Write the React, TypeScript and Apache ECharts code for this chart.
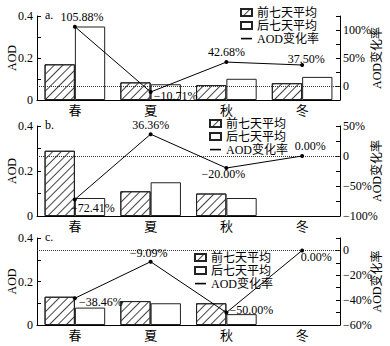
import React, { useEffect, useRef } from 'react';
import * as echarts from 'echarts';

const seasons = ['春', '夏', '秋', '冬'];

const aBefore = [0.17, 0.084, 0.071, 0.08];
const aAfter = [0.35, 0.075, 0.101, 0.11];
const aRate = [105.88, -10.71, 42.68, 37.5];

const bBefore = [0.29, 0.11, 0.1, null];
const bAfter = [0.08, 0.15, 0.08, null];
const bRate = [-72.41, 36.36, -20.0, 0.0];

const cBefore = [0.13, 0.11, 0.1, null];
const cAfter = [0.08, 0.1, 0.05, null];
const cRate = [-38.46, -9.09, -50.0, 0.0];

const panelTitles = ['a.', 'b.', 'c.'];
const rightMin = [-25, -100, -60];
const rightMax = [125, 50, 10];
const rightTickStep = [25, 25, 10];
const rightLabelStep = [50, 50, 20];

const legendNames = ['前七天平均', '后七天平均', 'AOD变化率'];

// label layout (style only)
const labelLayouts = [
  [
    { position: 'top', distance: 2, offset: [7, 0] },
    { position: 'right', distance: 1, offset: [0, 4] },
    { position: 'top', distance: 2, offset: [0, 0] },
    { position: 'top', distance: 0, offset: [4, 2] },
  ],
  [
    { position: 'bottom', distance: 2, offset: [18, -1] },
    { position: 'top', distance: 1, offset: [0, 0] },
    { position: 'bottom', distance: 0, offset: [-3, -2] },
    { position: 'top', distance: 2, offset: [8, 0] },
  ],
  [
    { position: 'right', distance: 2, offset: [0, 4] },
    { position: 'top', distance: 1, offset: [-2, 0] },
    { position: 'right', distance: 1, offset: [0, -3] },
    { position: 'bottom', distance: 0, offset: [14, -1] },
  ],
];

const FONT = "'Liberation Serif', 'Noto Sans CJK SC', serif";

const grids = [
  { left: 37, right: 50, top: 16, height: 84, outerBoundsMode: 'none', containLabel: false },
  { left: 37, right: 50, top: 126, height: 90, outerBoundsMode: 'none', containLabel: false },
  { left: 37, right: 50, top: 238, height: 87, outerBoundsMode: 'none', containLabel: false },
];
const legendPos = [
  { left: 240, top: 6 },
  { left: 209, top: 117 },
  { left: 194, top: 251 },
];

const LINE_ICON = 'path://M0,0 M11,7 M0,2.8 L11,2.8 L11,4.4 L0,4.4 Z';

const minus = (s: string) => s.replace('-', '\u2212');

export default function App() {
  const ref = useRef<HTMLDivElement>(null);
  useEffect(() => {
    if (!ref.current) return;
    const chart = echarts.init(ref.current, undefined, { renderer: 'svg' });
    const befores = [aBefore, bBefore, cBefore];
    const afters = [aAfter, bAfter, cAfter];
    const rates = [aRate, bRate, cRate];

    const xAxis: any[] = [];
    const yAxis: any[] = [];
    const series: any[] = [];
    const legend: any[] = [];
    const title: any[] = [];

    for (let i = 0; i < 3; i++) {
      xAxis.push({
        type: 'category',
        gridIndex: i,
        data: seasons,
        axisTick: { show: false },
        axisLine: { onZero: false, lineStyle: { color: '#000', width: 1 } },
        axisLabel: { color: '#000', fontSize: 13, margin: 4, fontFamily: FONT },
      });
      yAxis.push({
        type: 'value',
        gridIndex: i,
        position: 'left',
        min: 0,
        max: 0.4,
        interval: 0.1,
        name: 'AOD',
        nameLocation: 'middle',
        nameRotate: 90,
        nameGap: 19,
        nameMoveOverlap: false,
        nameTextStyle: { color: '#000', fontSize: 12, fontFamily: FONT },
        axisLine: { show: true, lineStyle: { color: '#000', width: 1 } },
        axisTick: { show: true, inside: true, length: 4, lineStyle: { color: '#000' } },
        axisLabel: {
          color: '#000',
          fontSize: 12,
          margin: 4,
          fontFamily: FONT,
          formatter: (v: number) => {
            const k = Math.round(v * 10);
            return k % 2 === 0 ? String(k / 10) : '';
          },
        },
        splitLine: { show: false },
      });
      const step = rightLabelStep[i];
      yAxis.push({
        type: 'value',
        gridIndex: i,
        position: 'right',
        min: rightMin[i],
        max: rightMax[i],
        interval: rightTickStep[i],
        name: 'AOD变化率',
        nameLocation: 'middle',
        nameRotate: 90,
        nameGap: 31,
        nameMoveOverlap: false,
        nameTextStyle: { color: '#000', fontSize: 12, fontFamily: FONT },
        axisLine: { show: true, lineStyle: { color: '#000', width: 1 } },
        axisTick: { show: true, inside: true, length: 4, lineStyle: { color: '#000' } },
        axisLabel: {
          color: '#000',
          fontSize: 12,
          margin: 3,
          fontFamily: FONT,
          formatter: (v: number) => {
            const r = Math.round(v);
            if (r % step !== 0) return '';
            if (r === 0) return '0';
            return minus(String(r)) + '%';
          },
        },
        splitLine: { show: false },
      });

      series.push({
        type: 'bar',
        name: legendNames[0],
        xAxisIndex: i,
        yAxisIndex: 2 * i,
        data: befores[i],
        barWidth: '40%',
        barGap: '0%',
        itemStyle: {
          color: '#fff',
          borderColor: '#222',
          borderWidth: 1,
          decal: {
            symbol: 'rect',
            symbolSize: 1,
            dashArrayX: [1, 0],
            dashArrayY: [1, 4.5],
            rotation: -Math.PI / 4,
            color: '#444',
            backgroundColor: '#fff',
          },
        },
      });
      series.push({
        type: 'bar',
        name: legendNames[1],
        xAxisIndex: i,
        yAxisIndex: 2 * i,
        data: afters[i],
        barWidth: '40%',
        barGap: '0%',
        itemStyle: { color: '#fff', borderColor: '#222', borderWidth: 1 },
      });
      series.push({
        type: 'line',
        name: legendNames[2],
        xAxisIndex: i,
        yAxisIndex: 2 * i + 1,
        z: 5,
        symbol: 'circle',
        symbolSize: 4,
        lineStyle: { color: '#000', width: 1 },
        itemStyle: { color: '#000' },
        data: rates[i].map((v, j) => ({ value: v, label: labelLayouts[i][j] })),
        label: {
          show: true,
          color: '#000',
          fontSize: 12,
          fontFamily: FONT,
          formatter: (p: any) => minus(Number(p.value).toFixed(2)) + '%',
        },
        markLine: {
          silent: true,
          symbol: ['none', 'none'],
          label: { show: false },
          lineStyle: { type: 'dotted', color: '#333', width: 1 },
          data: [{ yAxis: 0 }],
        },
      });

      legend.push({
        ...legendPos[i],
        orient: 'vertical',
        padding: 0,
        itemGap: 0,
        itemWidth: 11,
        itemHeight: 7,
        selectedMode: false,
        textStyle: { color: '#000', fontSize: 12, lineHeight: 13, fontFamily: FONT },
        data: [
          { name: legendNames[0], icon: 'rect' },
          { name: legendNames[1], icon: 'rect' },
          { name: legendNames[2], icon: LINE_ICON, itemStyle: { color: '#000', borderWidth: 0 } },
        ],
      });

      title.push({
        text: panelTitles[i],
        left: 45,
        top: grids[i].top - 7,
        padding: 0,
        textStyle: { color: '#000', fontSize: 12, fontWeight: 'normal', fontFamily: FONT },
      });
    }

    chart.setOption({
      animation: false,
      backgroundColor: '#fff',
      textStyle: { fontFamily: FONT },
      title,
      legend,
      grid: grids,
      xAxis,
      yAxis,
      series,
    });
    return () => chart.dispose();
  }, []);
  return (
    <div
      ref={ref}
      style={{ position: 'fixed', left: 0, top: 0, width: 390, height: 346 }}
    />
  );
}
